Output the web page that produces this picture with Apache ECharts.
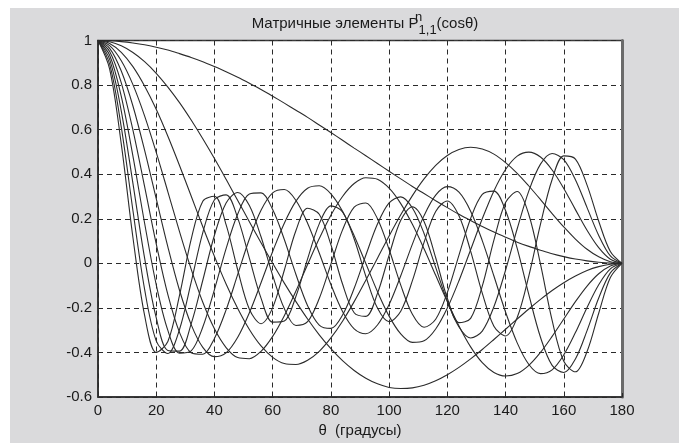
<!DOCTYPE html>
<html>
<head>
<meta charset="utf-8">
<script src="https://cdn.jsdelivr.net/npm/echarts@6/dist/echarts.min.js"></script>
<style>
  html, body { margin: 0; padding: 0; background: #fff; }
  #chart { width: 679px; height: 443px; }
</style>
</head>
<body>
<div id="chart"></div>
<script>
// угол, градусы
const theta = [0, 4, 8, 12, 16, 20, 24, 28, 32, 36, 40, 44, 48, 52, 56, 60, 64, 68, 72, 76, 80, 84, 88,
  92, 96, 100, 104, 108, 112, 116, 120, 124, 128, 132, 136, 140, 144, 148, 152, 156, 160, 164, 168, 172, 176, 180];

// P^n_{1,1}(cos θ), n = 1..10
const p1 = [1, 0.999, 0.995, 0.989, 0.981, 0.970, 0.957, 0.941, 0.924, 0.905, 0.883, 0.860, 0.835, 0.808, 0.780, 0.750, 0.719, 0.687, 0.655, 0.621, 0.587, 0.552, 0.517,
  0.483, 0.448, 0.413, 0.379, 0.345, 0.313, 0.281, 0.250, 0.220, 0.192, 0.165, 0.140, 0.117, 0.095, 0.076, 0.059, 0.043, 0.030, 0.019, 0.011, 0.005, 0.001, 0];
const p2 = [1, 0.994, 0.976, 0.946, 0.905, 0.853, 0.791, 0.721, 0.643, 0.559, 0.470, 0.377, 0.282, 0.187, 0.092, 0.000, -0.089, -0.172, -0.250, -0.321, -0.383, -0.437, -0.481,
  -0.516, -0.541, -0.557, -0.562, -0.559, -0.547, -0.527, -0.500, -0.467, -0.429, -0.387, -0.342, -0.296, -0.250, -0.205, -0.162, -0.122, -0.087, -0.057, -0.032, -0.015, -0.004, 0];
const p3 = [1, 0.987, 0.947, 0.883, 0.796, 0.691, 0.570, 0.439, 0.302, 0.164, 0.031, -0.093, -0.203, -0.297, -0.371, -0.422, -0.450, -0.454, -0.435, -0.395, -0.335, -0.260, -0.172,
  -0.076, 0.023, 0.123, 0.218, 0.304, 0.379, 0.440, 0.484, 0.511, 0.521, 0.513, 0.490, 0.452, 0.404, 0.347, 0.286, 0.223, 0.163, 0.109, 0.063, 0.029, 0.007, 0];
const p4 = [1, 0.977, 0.909, 0.802, 0.662, 0.498, 0.321, 0.142, -0.026, -0.175, -0.294, -0.378, -0.423, -0.428, -0.395, -0.328, -0.235, -0.124, -0.005, 0.111, 0.216, 0.300, 0.358,
  0.384, 0.377, 0.337, 0.268, 0.175, 0.065, -0.054, -0.172, -0.281, -0.375, -0.446, -0.490, -0.506, -0.495, -0.458, -0.400, -0.328, -0.250, -0.172, -0.102, -0.047, -0.012, 0];
const p5 = [1, 0.965, 0.863, 0.706, 0.508, 0.290, 0.074, -0.121, -0.275, -0.377, -0.419, -0.402, -0.332, -0.222, -0.087, 0.053, 0.180, 0.279, 0.337, 0.348, 0.312, 0.234, 0.124,
  -0.001, -0.127, -0.237, -0.317, -0.355, -0.348, -0.295, -0.201, -0.078, 0.061, 0.200, 0.325, 0.421, 0.481, 0.499, 0.477, 0.419, 0.336, 0.241, 0.148, 0.070, 0.018, 0];
const p6 = [1, 0.951, 0.810, 0.598, 0.345, 0.087, -0.141, -0.310, -0.401, -0.408, -0.337, -0.209, -0.050, 0.109, 0.238, 0.316, 0.331, 0.282, 0.180, 0.046, -0.095, -0.216, -0.294,
  -0.316, -0.277, -0.185, -0.056, 0.086, 0.214, 0.306, 0.344, 0.319, 0.234, 0.102, -0.057, -0.219, -0.357, -0.454, -0.495, -0.478, -0.411, -0.311, -0.198, -0.096, -0.025, 0];
const p7 = [1, 0.934, 0.749, 0.481, 0.181, -0.096, -0.301, -0.403, -0.393, -0.286, -0.118, 0.066, 0.221, 0.311, 0.316, 0.241, 0.107, -0.050, -0.190, -0.277, -0.292, -0.232, -0.112,
  0.036, 0.176, 0.271, 0.298, 0.248, 0.134, -0.018, -0.170, -0.286, -0.335, -0.304, -0.195, -0.031, 0.155, 0.325, 0.445, 0.493, 0.465, 0.375, 0.250, 0.125, 0.033, 0];
const p8 = [1, 0.915, 0.683, 0.359, 0.024, -0.244, -0.391, -0.394, -0.272, -0.076, 0.126, 0.271, 0.318, 0.259, 0.119, -0.054, -0.203, -0.279, -0.262, -0.158, -0.004, 0.150, 0.252,
  0.271, 0.200, 0.062, -0.098, -0.229, -0.287, -0.251, -0.131, 0.037, 0.201, 0.309, 0.324, 0.237, 0.067, -0.141, -0.332, -0.458, -0.490, -0.429, -0.302, -0.156, -0.043, 0];
const p9 = [1, 0.894, 0.611, 0.237, -0.116, -0.348, -0.405, -0.297, -0.086, 0.138, 0.285, 0.307, 0.203, 0.023, -0.156, -0.264, -0.259, -0.148, 0.020, 0.177, 0.258, 0.231, 0.109,
  -0.058, -0.201, -0.262, -0.215, -0.078, 0.094, 0.233, 0.280, 0.213, 0.055, -0.134, -0.282, -0.326, -0.243, -0.056, 0.176, 0.376, 0.482, 0.468, 0.351, 0.189, 0.053, 0];
const p10 = [1, 0.872, 0.535, 0.116, -0.233, -0.400, -0.351, -0.144, 0.107, 0.279, 0.301, 0.174, -0.030, -0.206, -0.271, -0.199, -0.031, 0.147, 0.247, 0.220, 0.084, -0.093, -0.222,
  -0.238, -0.135, 0.037, 0.193, 0.254, 0.188, 0.025, -0.157, -0.266, -0.247, -0.102, 0.104, 0.273, 0.322, 0.218, -0.004, -0.256, -0.440, -0.487, -0.396, -0.224, -0.064, 0];

const curves = [p1, p2, p3, p4, p5, p6, p7, p8, p9, p10];

const chart = echarts.init(document.getElementById('chart'));
const font = '"Liberation Sans", Arial, sans-serif';

const option = {
  animation: false,
  backgroundColor: '#fff',
  graphic: [{
    type: 'rect', z: -10, silent: true,
    shape: { x: 10, y: 8, width: 669, height: 435 },
    style: { fill: '#dadadc' }
  }],
  title: {
    text: 'Матричные элементы P{sup|n}{sub|1,1}(cosθ)',
    left: 360,
    top: 6,
    textAlign: 'center',
    textStyle: {
      fontFamily: font, fontSize: 15, fontWeight: 'normal', color: '#1a1a1a',
      lineHeight: 26,
      rich: {
        sup: { fontFamily: font, fontSize: 13, color: '#1a1a1a', width: 0, verticalAlign: 'top', lineHeight: 14 },
        sub: { fontFamily: font, fontSize: 13, color: '#1a1a1a', verticalAlign: 'bottom', lineHeight: 14 }
      }
    }
  },
  grid: {
    left: 98, top: 40.5, width: 524, height: 358,
    show: true, backgroundColor: '#fff', borderColor: '#3a3a3a', borderWidth: 1.5
  },
  xAxis: {
    type: 'value', min: 0, max: 180, interval: 20,
    name: 'θ  (градусы)', nameLocation: 'middle', nameGap: 26,
    nameTextStyle: { fontFamily: font, fontSize: 15, color: '#1a1a1a' },
    axisLine: { show: true, onZero: false, lineStyle: { color: '#2a2a2a', width: 1.5 } },
    axisTick: { show: true, inside: true, length: 4, lineStyle: { color: '#2a2a2a' } },
    axisLabel: { fontFamily: font, fontSize: 15, color: '#1a1a1a', margin: 6 },
    splitLine: { show: true, lineStyle: { color: '#2a2a2a', width: 1, type: [5, 4] } }
  },
  yAxis: [{
    type: 'value', min: -0.6, max: 1, interval: 0.2,
    axisLine: { show: true, onZero: false, lineStyle: { color: '#2a2a2a', width: 1.5 } },
    axisTick: { show: true, inside: true, length: 4, lineStyle: { color: '#2a2a2a' } },
    axisLabel: { fontFamily: font, fontSize: 15, color: '#1a1a1a', margin: 6 },
    splitLine: { show: true, lineStyle: { color: '#2a2a2a', width: 1, type: [5, 4] } }
  }, {
    type: 'value', min: -0.6, max: 1, interval: 0.2, position: 'right',
    axisLine: { show: true, onZero: false, lineStyle: { color: '#6a6a6a', width: 3 } },
    axisTick: { show: false }, axisLabel: { show: false }, splitLine: { show: false }
  }],
  series: curves.map((vals, i) => ({
    name: 'n=' + (i + 1),
    type: 'line',
    data: theta.map((t, k) => [t, vals[k]]),
    smooth: 0.33,
    showSymbol: false,
    lineStyle: { color: '#2b2b2b', width: 1.1 }
  }))
};

chart.setOption(option);
</script>
</body>
</html>
